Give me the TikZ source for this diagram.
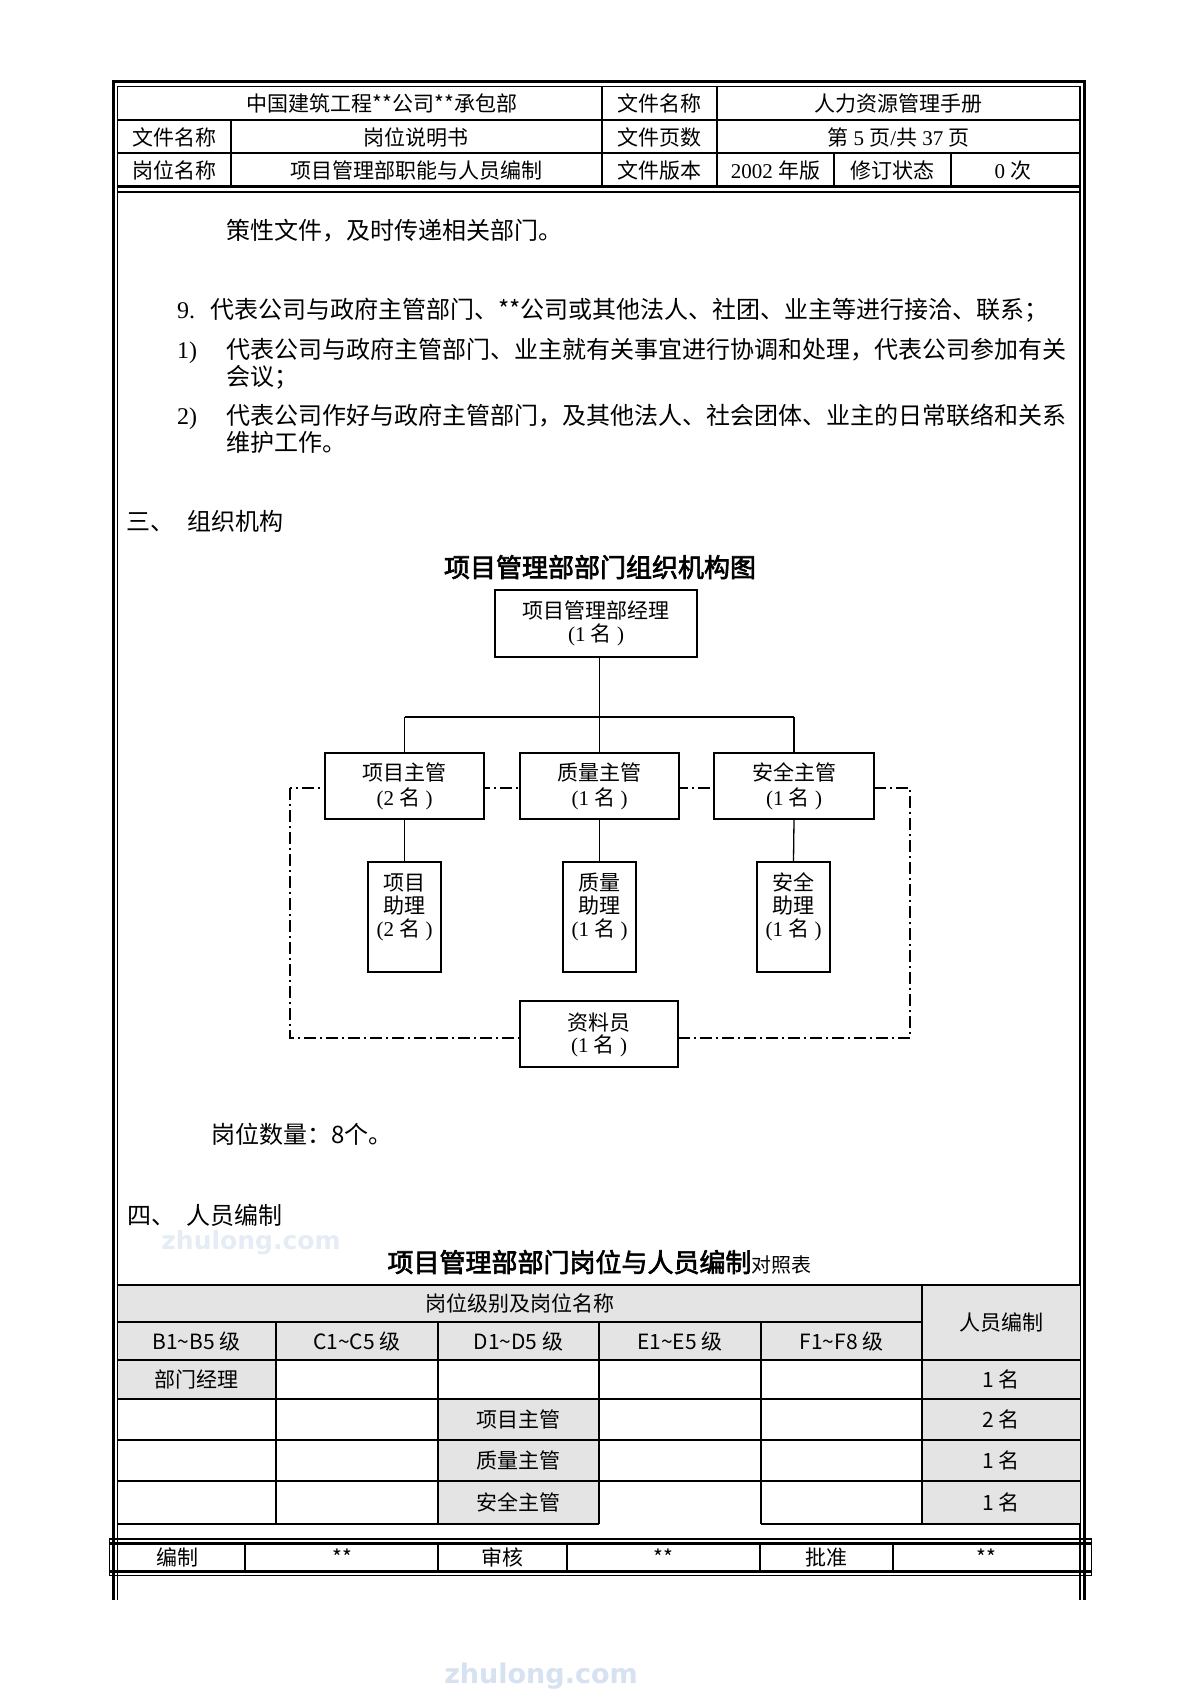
\documentclass[tikz,border=0pt]{standalone}
\usepackage{fontspec}
\setmainfont{Noto Sans CJK SC}
\newfontfamily\tnr{Liberation Serif}
\newfontfamily\cjkb{Noto Sans CJK SC}[FakeBold=2.5]
\newfontfamily\wmfont{DejaVu Sans}
\definecolor{cellgray}{RGB}{228,228,228}
\definecolor{wmark}{RGB}{230,236,246}
\definecolor{wmarkb}{RGB}{214,225,241}
\tikzset{
  hd/.style={font=\fontsize{21}{25}\selectfont, inner sep=0pt, anchor=base},
  bd/.style={font=\fontsize{24}{28}\selectfont, inner sep=0pt, anchor=base west},
  ct/.style={font=\fontsize{21}{25}\selectfont, inner sep=0pt, anchor=base},
  orgbox/.style={draw, line width=2pt, fill=white, inner sep=0pt},
  conn/.style={line width=1.3pt},
  busline/.style={line width=2.6pt},
  ddot/.style={line width=1.5pt, dash pattern=on 12pt off 4pt on 2pt off 4pt},
  thickframe/.style={line width=3pt},
  thinline/.style={line width=1.3pt},
  grid/.style={line width=2pt},
  wmtext/.style={font=\wmfont\bfseries\fontsize{25}{28}\selectfont, inner sep=0pt, anchor=center}
}
\begin{document}
\begin{tikzpicture}[x=1pt,y=-1pt]
\useasboundingbox (0,0) rectangle (1200,1698);
\fill[white] (0,0) rectangle (1200,1698);

% watermarks
\node[wmtext, text=wmark] (wm1) at (251,1243) {zhulong.com};
\node[wmtext, text=wmarkb, font=\wmfont\bfseries\fontsize{27}{30}\selectfont] (wm2) at (541,1676) {zhulong.com};

% frame
\draw[thickframe, line join=miter] (113,1600) -- (113,81.5) -- (1084,81.5) -- (1084,1600);
\draw[thinline] (117.5,1600) -- (117.5,86.5) -- (1080,86.5) -- (1080,1600);

% header grid
\draw[thinline] (117.5,120) -- (1080,120);
\draw[thinline] (117.5,153) -- (1080,153);
\draw[thickframe] (117.5,186.5) -- (1080,186.5);
\draw[thinline] (117.5,192) -- (1080,192);
\draw[thinline] (231,120) -- (231,186.5);
\draw[thinline] (602,86.5) -- (602,186.5);
\draw[thinline] (717,86.5) -- (717,186.5);
\draw[thinline] (834,153) -- (834,186.5);
\draw[thinline] (951,153) -- (951,186.5);

\node[hd] (h11) at (382,111) {中国建筑工程**公司**承包部};
\node[hd] (h12) at (659.5,111) {文件名称};
\node[hd] (h13) at (898.5,111) {人力资源管理手册};
\node[hd] (h21) at (174,145) {文件名称};
\node[hd] (h22) at (416,145) {岗位说明书};
\node[hd] (h23) at (659.5,145) {文件页数};
\node[hd] (h24) at (898.5,145) {第{\tnr\ 5 }页{\tnr/}共{\tnr\ 37 }页};
\node[hd] (h31) at (174,178) {岗位名称};
\node[hd] (h32) at (416,178) {项目管理部职能与人员编制};
\node[hd] (h33) at (659.5,178) {文件版本};
\node[hd] (h34) at (775.5,178) {{\tnr 2002 }年版};
\node[hd] (h35) at (892.5,178) {修订状态};
\node[hd] (h36) at (1013,178) {{\tnr 0 }次};

% body text
\node[bd] (b1) at (226,239) {策性文件，及时传递相关部门。};
\node[bd, font=\tnr\fontsize{24}{28}\selectfont] (b2n) at (177,318) {9.};
\node[bd] (b2) at (210,318) {代表公司与政府主管部门、**公司或其他法人、社团、业主等进行接洽、联系；};
\node[bd, font=\tnr\fontsize{24}{28}\selectfont] (b3n) at (177,358) {1)};
\node[bd] (b3) at (226,358) {代表公司与政府主管部门、业主就有关事宜进行协调和处理，代表公司参加有关};
\node[bd] (b4) at (226,385) {会议；};
\node[bd, font=\tnr\fontsize{24}{28}\selectfont] (b5n) at (177,424) {2)};
\node[bd] (b5) at (226,424) {代表公司作好与政府主管部门，及其他法人、社会团体、业主的日常联络和关系};
\node[bd] (b6) at (226,451) {维护工作。};
\node[bd] (s3a) at (126,530) {三、};
\node[bd] (s3b) at (187,530) {组织机构};

% org chart
\node[inner sep=0pt, anchor=base, font=\cjkb\fontsize{26}{30}\selectfont] (ctitle) at (600,577) {项目管理部部门组织机构图};

\draw[ddot] (290,788) rectangle (910,1038);

\node[orgbox, minimum width=202pt, minimum height=67pt] (top) at (596,623.5) {};
\node[orgbox, minimum width=159pt, minimum height=66pt] (mid1) at (404.5,786) {};
\node[orgbox, minimum width=159pt, minimum height=66pt] (mid2) at (599.5,786) {};
\node[orgbox, minimum width=160pt, minimum height=66pt] (mid3) at (794,786) {};
\node[orgbox, minimum width=73pt, minimum height=110pt] (sub1) at (404.5,917) {};
\node[orgbox, minimum width=73pt, minimum height=110pt] (sub2) at (599.5,917) {};
\node[orgbox, minimum width=73pt, minimum height=110pt] (sub3) at (793.5,917) {};
\node[orgbox, minimum width=158pt, minimum height=66pt] (bot) at (599,1034) {};

\coordinate (busL) at (404.5,717);
\coordinate (busR) at (794,717);
\draw[conn] (mid2.north |- top.south) -- (mid2.north);
\draw[busline] (busL) -- (busR);
\draw[conn] (busL) -- (mid1.north);
\draw[conn] (busR) -- (mid3.north);
\draw[conn] (mid1.south) -- (sub1.north);
\draw[conn] (mid2.south) -- (sub2.north);
\draw[conn] (mid3.south) -- (sub3.north);

\node[ct] (top-a) at (596,618) {项目管理部经理};
\node[ct] (top-b) at (596,641) {{\tnr(1 }名{\tnr\ )}};
\node[ct] (m1a) at (404.5,780) {项目主管};
\node[ct] (m1b) at (404.5,805) {{\tnr(2 }名{\tnr\ )}};
\node[ct] (m2a) at (599.5,780) {质量主管};
\node[ct] (m2b) at (599.5,805) {{\tnr(1 }名{\tnr\ )}};
\node[ct] (m3a) at (794,780) {安全主管};
\node[ct] (m3b) at (794,805) {{\tnr(1 }名{\tnr\ )}};
\node[ct] (s1a) at (404.5,890) {项目};
\node[ct] (s1b) at (404.5,913) {助理};
\node[ct] (s1c) at (404.5,936) {{\tnr(2 }名{\tnr\ )}};
\node[ct] (s2a) at (599.5,890) {质量};
\node[ct] (s2b) at (599.5,913) {助理};
\node[ct] (s2c) at (599.5,936) {{\tnr(1 }名{\tnr\ )}};
\node[ct] (s3x) at (793.5,890) {安全};
\node[ct] (s3y) at (793.5,913) {助理};
\node[ct] (s3z) at (793.5,936) {{\tnr(1 }名{\tnr\ )}};
\node[ct] (bta) at (599,1030) {资料员};
\node[ct] (btb) at (599,1052) {{\tnr(1 }名{\tnr\ )}};

\node[bd] (q8) at (211,1143) {岗位数量：8个。};
\node[bd] (s4a) at (127,1224) {四、};
\node[bd] (s4b) at (186,1224) {人员编制};

\node[inner sep=0pt, anchor=base, font=\cjkb\fontsize{26}{30}\selectfont] (ttitle) at (599.5,1272) {项目管理部部门岗位与人员编制{\setmainfont{Noto Sans CJK SC}\fontsize{20}{24}\selectfont 对照表}};

% table fills
\fill[cellgray] (117.5,1285) rectangle (1080,1360);
\fill[cellgray] (922,1360) rectangle (1080,1524);
\fill[cellgray] (117.5,1360) rectangle (276,1399);
\fill[cellgray] (438,1399) rectangle (599,1524);

% table lines
\draw[grid] (117.5,1285) -- (1080,1285);
\draw[grid] (117.5,1322) -- (922,1322);
\draw[grid] (117.5,1360) -- (1080,1360);
\draw[grid] (117.5,1399) -- (1080,1399);
\draw[grid] (117.5,1440) -- (1080,1440);
\draw[grid] (117.5,1481) -- (1080,1481);
\draw[grid] (117.5,1524) -- (599,1524);
\draw[grid] (761,1524) -- (1080,1524);
\draw[grid] (276,1322) -- (276,1524);
\draw[grid] (438,1322) -- (438,1524);
\draw[grid] (599,1322) -- (599,1524);
\draw[grid] (761,1322) -- (761,1524);
\draw[grid] (922,1285) -- (922,1524);

\node[ct] (th1) at (519.5,1311) {岗位级别及岗位名称};
\node[ct] (th2) at (1001,1330) {人员编制};
\node[ct] (tb) at (196.5,1349) {B1\textasciitilde B5 级};
\node[ct] (tc) at (357,1349) {C1\textasciitilde C5 级};
\node[ct] (td) at (518.5,1349) {D1\textasciitilde D5 级};
\node[ct] (te) at (680,1349) {E1\textasciitilde E5 级};
\node[ct] (tf) at (841.5,1349) {F1\textasciitilde F8 级};
\node[ct] (r1a) at (196.5,1387) {部门经理};
\node[ct] (r1b) at (1001,1387) {1 名};
\node[ct] (r2a) at (518.5,1427) {项目主管};
\node[ct] (r2b) at (1001,1427) {2 名};
\node[ct] (r3a) at (518.5,1468) {质量主管};
\node[ct] (r3b) at (1001,1468) {1 名};
\node[ct] (r4a) at (518.5,1510) {安全主管};
\node[ct] (r4b) at (1001,1510) {1 名};

% footer
\draw[thinline] (109,1539) -- (1092,1539);
\draw[thickframe] (109,1543) -- (1092,1543);
\draw[thickframe] (109,1571.5) -- (1092,1571.5);
\draw[thinline] (109,1575.5) -- (1092,1575.5);
\draw[thinline] (109.5,1539) -- (109.5,1575.5);
\draw[thinline] (1091.5,1539) -- (1091.5,1575.5);
\foreach \fx in {245,438,567,760,893} \draw[thinline] (\fx,1543) -- (\fx,1571.5);
\node[ct] (f1) at (177,1565) {编制};
\node[ct] (f2) at (342,1565) {**};
\node[ct] (f3) at (502,1565) {审核};
\node[ct] (f4) at (663,1565) {**};
\node[ct] (f5) at (826,1565) {批准};
\node[ct] (f6) at (986,1565) {**};
\end{tikzpicture}
\end{document}
